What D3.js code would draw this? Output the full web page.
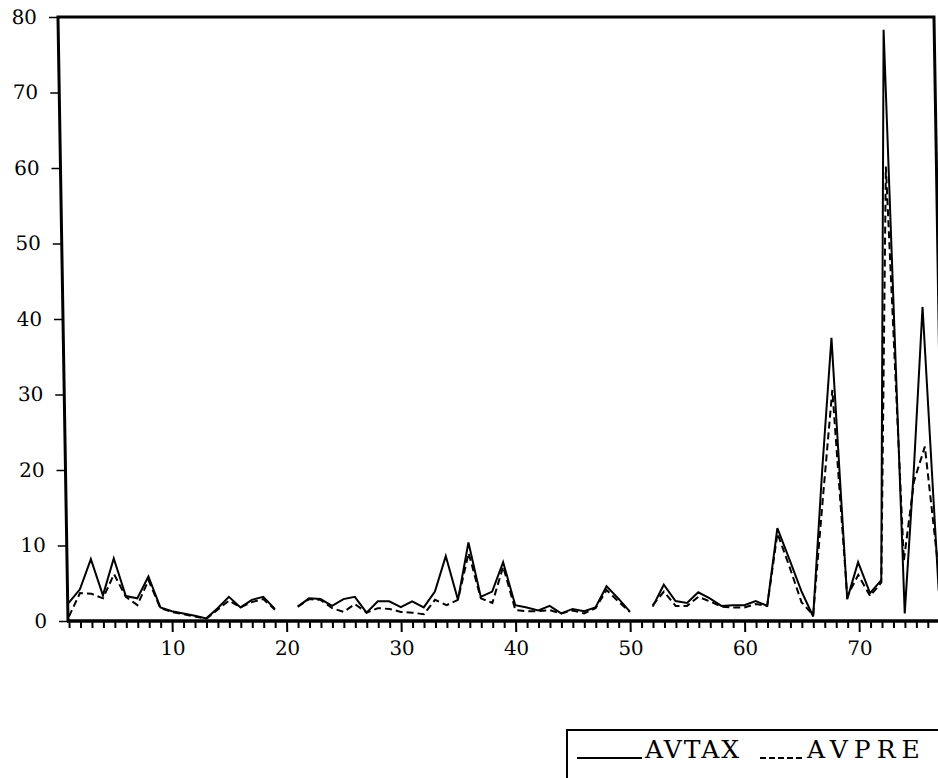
<!DOCTYPE html>
<html>
<head>
<meta charset="utf-8">
<script src="https://cdn.jsdelivr.net/npm/d3@7"></script>
<style>
  body { margin: 0; background: #fff; }
  svg { display: block; }
</style>
</head>
<body>
<div id="chart"></div>
<script>
// observation number 1..77, null = missing value
const periods = d3.range(1, 78);
const avtax = [
  2.4, 4.2, 8.2, 3.4, 8.3, 3.3, 3.0, 5.9, 1.8, 1.3,
  1.0, 0.7, 0.35, 1.7, 3.2, 1.8, 2.8, 3.2, 1.6, null,
  1.9, 3.0, 2.9, 2.0, 2.9, 3.2, 1.1, 2.6, 2.6, 1.85,
  2.6, 1.8, 3.9, 8.6, 2.8, 10.4, 3.2, 3.9, 7.8, 2.1,
  1.8, 1.4, 2.0, 1.0, 1.6, 1.3, 1.8, 4.6, 3.0, 1.25,
  null, 1.9, 4.8, 2.65, 2.4, 3.8, 3.0, 2.0, 2.1, 2.1,
  2.65, 2.0, 12.3, 8.2, 4.0, 0.6, 20, 37.5, 2.9, 7.8,
  3.7, 5.4, 78.3, 1.0, 20, 41.6, 4
];
const avpre = [
  0.6, 3.7, 3.6, 3.0, 6.2, 3.2, 2.1, 5.4, 1.7, 1.2,
  0.9, 0.6, 0.3, 1.5, 2.7, 1.8, 2.5, 2.9, 1.5, null,
  1.9, 2.9, 2.8, 1.7, 1.2, 2.25, 1.1, 1.7, 1.6, 1.2,
  1.1, 0.9, 2.8, 2.1, 2.8, 9.0, 3.0, 2.4, 7.2, 1.45,
  1.3, 1.3, 1.45, 1.0, 1.4, 1.0, 1.7, 4.1, 2.6, 1.2,
  null, 2.1, 3.9, 2.0, 2.0, 3.2, 2.6, 1.9, 1.8, 1.8,
  2.25, 2.0, 11.6, 7.2, 2.5, 0.8, 16, 30.6, 3.3, 6.1,
  3.3, 5.1, 60.2, 8, 18.5, 23.1, 7
];
const yTicks = [0, 10, 20, 30, 40, 50, 60, 70, 80];
const seriesNames = ["AVTAX", "AVPRE"];

const W = 938;
const H = 778;
const BASE = 621;
const TOP = 17;
const LEFT = 68;
const RIGHT = 944;
const FONT = "'DejaVu Serif', 'Liberation Serif', serif";
// the scanned page leans a little: higher points sit further left
const SKEW = 0.95;

const svg = d3
  .select("#chart")
  .append("svg")
  .attr("width", W)
  .attr("height", H)
  .attr("font-family", FONT);

const g = svg
  .append("g")
  .attr("transform", `translate(0,${BASE}) skewX(${SKEW}) translate(0,${-BASE})`);

const x = d3.scaleLinear().domain([1, 77]).range([69, 939.2]);
const y = d3.scaleLinear().domain([0, 80]).range([BASE, TOP]);

// x axis: a tick per observation, labels every 10
const xAxis = d3
  .axisBottom(x)
  .tickValues(periods)
  .tickSizeInner(7)
  .tickSizeOuter(0)
  .tickPadding(13)
  .tickFormat(function(d) {
    return d % 10 === 0 ? d : "";
  });

const gx = g
  .append("g")
  .attr("transform", `translate(0,${BASE})`)
  .call(xAxis)
  .attr("font-family", FONT)
  .attr("font-size", 20);
gx.select(".domain").remove();
gx.selectAll(".tick line")
  .attr("stroke", "#000")
  .attr("stroke-width", 2)
  .attr("y2", function(d) {
    return d % 10 === 0 ? 11 : 7;
  });
gx.selectAll(".tick text").attr("fill", "#000");

const yAxis = d3
  .axisLeft(y)
  .tickValues(yTicks)
  .tickSizeInner(9)
  .tickSizeOuter(0)
  .tickPadding(12);

const gy = g
  .append("g")
  .attr("transform", `translate(${LEFT},0)`)
  .call(yAxis)
  .attr("font-family", FONT)
  .attr("font-size", 20);
gy.select(".domain").remove();
gy.selectAll(".tick line").attr("stroke", "#000").attr("stroke-width", 1.5);
gy.selectAll(".tick text").attr("fill", "#000");

// frame
g.append("path")
  .attr("d", `M${LEFT},${BASE}V${TOP}H${RIGHT}V${BASE}`)
  .attr("fill", "none")
  .attr("stroke", "#000")
  .attr("stroke-width", 3);
g.append("line")
  .attr("x1", LEFT - 1)
  .attr("x2", RIGHT)
  .attr("y1", BASE)
  .attr("y2", BASE)
  .attr("stroke", "#000")
  .attr("stroke-width", 3.5);

const line = d3
  .line()
  .defined(function(d) {
    return d[1] !== null;
  })
  .x(function(d) {
    return x(d[0]);
  })
  .y(function(d) {
    return y(d[1]);
  });

g.append("path")
  .datum(periods.map((p, i) => [p, avpre[i]]))
  .attr("d", line)
  .attr("fill", "none")
  .attr("stroke", "#000")
  .attr("stroke-width", 2)
  .attr("stroke-dasharray", "7,4");

g.append("path")
  .datum(periods.map((p, i) => [p, avtax[i]]))
  .attr("d", line)
  .attr("fill", "none")
  .attr("stroke", "#000")
  .attr("stroke-width", 2);

// legend (box runs off the page to the right and bottom)
const lg = svg.append("g");
lg.append("path")
  .attr("d", "M567,790V730H950")
  .attr("fill", "none")
  .attr("stroke", "#000")
  .attr("stroke-width", 2);

const legendItems = [
  { name: seriesNames[0], x1: 577, x2: 642, dash: null, spacing: 2 },
  { name: seriesNames[1], x1: 760, x2: 804, dash: "6,3", spacing: 6 }
];
legendItems.forEach(function(d) {
  lg.append("line")
    .attr("x1", d.x1)
    .attr("x2", d.x2)
    .attr("y1", 758)
    .attr("y2", 758)
    .attr("stroke", "#000")
    .attr("stroke-width", 2)
    .attr("stroke-dasharray", d.dash);
  lg.append("text")
    .attr("x", d.x2 + 3)
    .attr("y", 758)
    .attr("font-size", 25)
    .attr("letter-spacing", d.spacing)
    .attr("fill", "#000")
    .text(d.name);
});
</script>
</body>
</html>
